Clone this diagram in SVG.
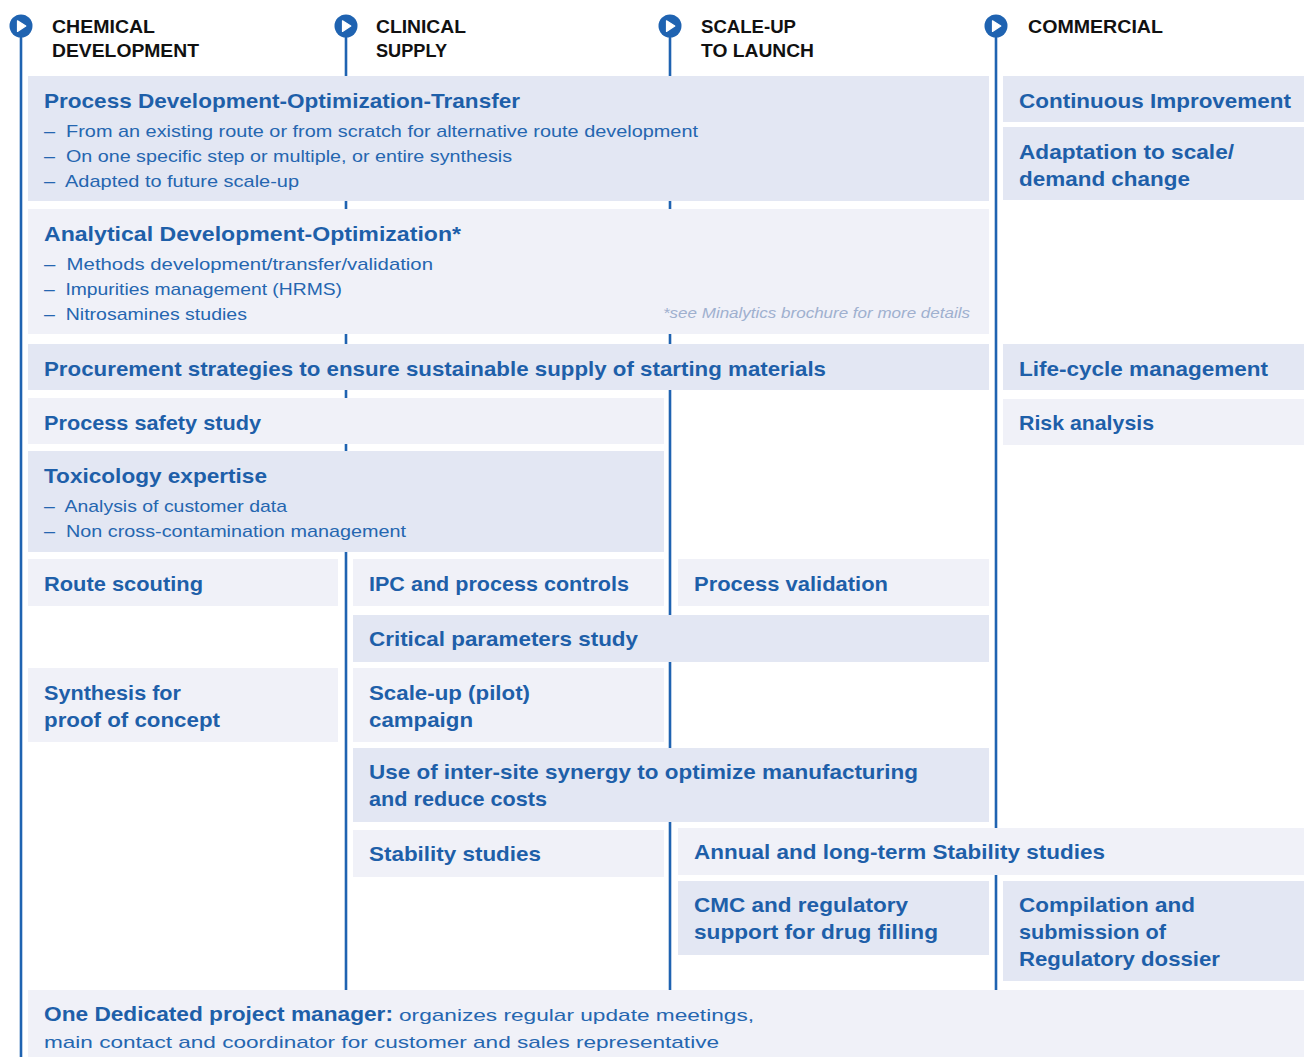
<svg xmlns="http://www.w3.org/2000/svg" width="1304" height="1057" viewBox="0 0 1304 1057">
<defs>
<style>
.d{fill:#e3e7f3}
.l{fill:#f0f1f8}
.t{font-family:"Liberation Sans",Arial,sans-serif;font-weight:700;font-size:21px;fill:#1e5fa9}
.s{font-family:"Liberation Sans",Arial,sans-serif;font-weight:400;font-size:17px;fill:#2566b0}
.h{font-family:"Liberation Sans",Arial,sans-serif;font-weight:700;font-size:18px;fill:#111}
.n{font-family:"Liberation Sans",Arial,sans-serif;font-style:italic;font-size:14px;fill:#9fb0cf}
.ln{stroke:#1f63b1;stroke-width:2.6;fill:none}
</style>
<g id="play">
<circle cx="0" cy="0" r="11.5" fill="#1f63b1"/>
<path d="M-3.5,-5.2 L-3.5,5.4 L4.8,0.1 Z" fill="#fff" stroke="#fff" stroke-width="1.2" stroke-linejoin="round"/>
</g>
</defs>
<rect width="1304" height="1057" fill="#fff"/>

<g id="connectors">
<line class="ln" x1="21" y1="26" x2="21" y2="1057"/>
<line class="ln" x1="346" y1="26" x2="346" y2="990"/>
<line class="ln" x1="670" y1="26" x2="670" y2="990"/>
<line class="ln" x1="996" y1="26" x2="996" y2="990"/>
</g>

<g id="header-chemical">
<use href="#play" x="21" y="26"/>
<text class="h" x="52" y="33" textLength="103" lengthAdjust="spacingAndGlyphs">CHEMICAL</text>
<text class="h" x="52" y="57" textLength="147" lengthAdjust="spacingAndGlyphs">DEVELOPMENT</text>
</g>
<g id="header-clinical">
<use href="#play" x="346" y="26"/>
<text class="h" x="376" y="33" textLength="90" lengthAdjust="spacingAndGlyphs">CLINICAL</text>
<text class="h" x="376" y="57" textLength="71" lengthAdjust="spacingAndGlyphs">SUPPLY</text>
</g>
<g id="header-scaleup">
<use href="#play" x="670" y="26"/>
<text class="h" x="701" y="33" textLength="95" lengthAdjust="spacingAndGlyphs">SCALE-UP</text>
<text class="h" x="701" y="57" textLength="113" lengthAdjust="spacingAndGlyphs">TO LAUNCH</text>
</g>
<g id="header-commercial">
<use href="#play" x="996" y="26"/>
<text class="h" x="1028" y="33" textLength="135" lengthAdjust="spacingAndGlyphs">COMMERCIAL</text>
</g>

<g id="process-development">
<rect class="d" x="28" y="76" width="961" height="125"/>
<text class="t" x="44" y="108" textLength="476" lengthAdjust="spacingAndGlyphs">Process Development-Optimization-Transfer</text>
<text class="s" x="44" y="137" textLength="654" lengthAdjust="spacingAndGlyphs">–&#160; From an existing route or from scratch for alternative route development</text>
<text class="s" x="44" y="162" textLength="468" lengthAdjust="spacingAndGlyphs">–&#160; On one specific step or multiple, or entire synthesis</text>
<text class="s" x="44" y="187" textLength="255" lengthAdjust="spacingAndGlyphs">–&#160; Adapted to future scale-up</text>
</g>
<g id="continuous-improvement">
<rect class="d" x="1003" y="76" width="301" height="46"/>
<text class="t" x="1019" y="108" textLength="272" lengthAdjust="spacingAndGlyphs">Continuous Improvement</text>
</g>
<g id="adaptation">
<rect class="d" x="1003" y="127" width="301" height="73"/>
<text class="t" x="1019" y="159" textLength="215" lengthAdjust="spacingAndGlyphs">Adaptation to scale/</text>
<text class="t" x="1019" y="186" textLength="171" lengthAdjust="spacingAndGlyphs">demand change</text>
</g>
<g id="analytical">
<rect class="l" x="28" y="209" width="961" height="125"/>
<text class="t" x="44" y="241" textLength="417" lengthAdjust="spacingAndGlyphs">Analytical Development-Optimization*</text>
<text class="s" x="44" y="270" textLength="389" lengthAdjust="spacingAndGlyphs">–&#160; Methods development/transfer/validation</text>
<text class="s" x="44" y="295" textLength="298" lengthAdjust="spacingAndGlyphs">–&#160; Impurities management (HRMS)</text>
<text class="s" x="44" y="320" textLength="203" lengthAdjust="spacingAndGlyphs">–&#160; Nitrosamines studies</text>
<text class="n" x="663" y="318" textLength="307" lengthAdjust="spacingAndGlyphs">*see Minalytics brochure for more details</text>
</g>
<g id="procurement">
<rect class="d" x="28" y="344" width="961" height="46"/>
<text class="t" x="44" y="376" textLength="782" lengthAdjust="spacingAndGlyphs">Procurement strategies to ensure sustainable supply of starting materials</text>
</g>
<g id="life-cycle">
<rect class="d" x="1003" y="344" width="301" height="46"/>
<text class="t" x="1019" y="376" textLength="249" lengthAdjust="spacingAndGlyphs">Life-cycle management</text>
</g>
<g id="process-safety">
<rect class="l" x="28" y="398" width="636" height="46"/>
<text class="t" x="44" y="430" textLength="217" lengthAdjust="spacingAndGlyphs">Process safety study</text>
</g>
<g id="risk-analysis">
<rect class="l" x="1003" y="399" width="301" height="46"/>
<text class="t" x="1019" y="430" textLength="135" lengthAdjust="spacingAndGlyphs">Risk analysis</text>
</g>
<g id="toxicology">
<rect class="d" x="28" y="451" width="636" height="101"/>
<text class="t" x="44" y="483" textLength="223" lengthAdjust="spacingAndGlyphs">Toxicology expertise</text>
<text class="s" x="44" y="512" textLength="243" lengthAdjust="spacingAndGlyphs">–&#160; Analysis of customer data</text>
<text class="s" x="44" y="537" textLength="362" lengthAdjust="spacingAndGlyphs">–&#160; Non cross-contamination management</text>
</g>
<g id="route-scouting">
<rect class="l" x="28" y="559" width="310" height="47"/>
<text class="t" x="44" y="591" textLength="159" lengthAdjust="spacingAndGlyphs">Route scouting</text>
</g>
<g id="ipc">
<rect class="l" x="353" y="559" width="311" height="47"/>
<text class="t" x="369" y="591" textLength="260" lengthAdjust="spacingAndGlyphs">IPC and process controls</text>
</g>
<g id="process-validation">
<rect class="l" x="678" y="559" width="311" height="47"/>
<text class="t" x="694" y="591" textLength="194" lengthAdjust="spacingAndGlyphs">Process validation</text>
</g>
<g id="critical-parameters">
<rect class="d" x="353" y="615" width="636" height="47"/>
<text class="t" x="369" y="646" textLength="269" lengthAdjust="spacingAndGlyphs">Critical parameters study</text>
</g>
<g id="synthesis">
<rect class="l" x="28" y="668" width="310" height="74"/>
<text class="t" x="44" y="700" textLength="137" lengthAdjust="spacingAndGlyphs">Synthesis for</text>
<text class="t" x="44" y="727" textLength="176" lengthAdjust="spacingAndGlyphs">proof of concept</text>
</g>
<g id="scale-up-pilot">
<rect class="l" x="353" y="668" width="311" height="74"/>
<text class="t" x="369" y="700" textLength="161" lengthAdjust="spacingAndGlyphs">Scale-up (pilot)</text>
<text class="t" x="369" y="727" textLength="104" lengthAdjust="spacingAndGlyphs">campaign</text>
</g>
<g id="inter-site">
<rect class="d" x="353" y="748" width="636" height="74"/>
<text class="t" x="369" y="779" textLength="549" lengthAdjust="spacingAndGlyphs">Use of inter-site synergy to optimize manufacturing</text>
<text class="t" x="369" y="806" textLength="178" lengthAdjust="spacingAndGlyphs">and reduce costs</text>
</g>
<g id="stability">
<rect class="l" x="353" y="830" width="311" height="47"/>
<text class="t" x="369" y="861" textLength="172" lengthAdjust="spacingAndGlyphs">Stability studies</text>
</g>
<g id="annual-stability">
<rect class="l" x="678" y="828" width="626" height="47"/>
<text class="t" x="694" y="859" textLength="411" lengthAdjust="spacingAndGlyphs">Annual and long-term Stability studies</text>
</g>
<g id="cmc">
<rect class="d" x="678" y="881" width="311" height="74"/>
<text class="t" x="694" y="912" textLength="214" lengthAdjust="spacingAndGlyphs">CMC and regulatory</text>
<text class="t" x="694" y="939" textLength="244" lengthAdjust="spacingAndGlyphs">support for drug filling</text>
</g>
<g id="compilation">
<rect class="d" x="1003" y="881" width="301" height="100"/>
<text class="t" x="1019" y="912" textLength="176" lengthAdjust="spacingAndGlyphs">Compilation and</text>
<text class="t" x="1019" y="939" textLength="147" lengthAdjust="spacingAndGlyphs">submission of</text>
<text class="t" x="1019" y="966" textLength="201" lengthAdjust="spacingAndGlyphs">Regulatory dossier</text>
</g>
<g id="project-manager">
<rect class="l" x="28" y="990" width="1276" height="67"/>
<text class="t" x="44" y="1021" textLength="349" lengthAdjust="spacingAndGlyphs">One Dedicated project manager:</text>
<text class="s" x="399" y="1021" font-size="19" textLength="355" lengthAdjust="spacingAndGlyphs">organizes regular update meetings,</text>
<text class="s" x="44" y="1048" font-size="19" textLength="675" lengthAdjust="spacingAndGlyphs">main contact and coordinator for customer and sales representative</text>
</g>
</svg>
